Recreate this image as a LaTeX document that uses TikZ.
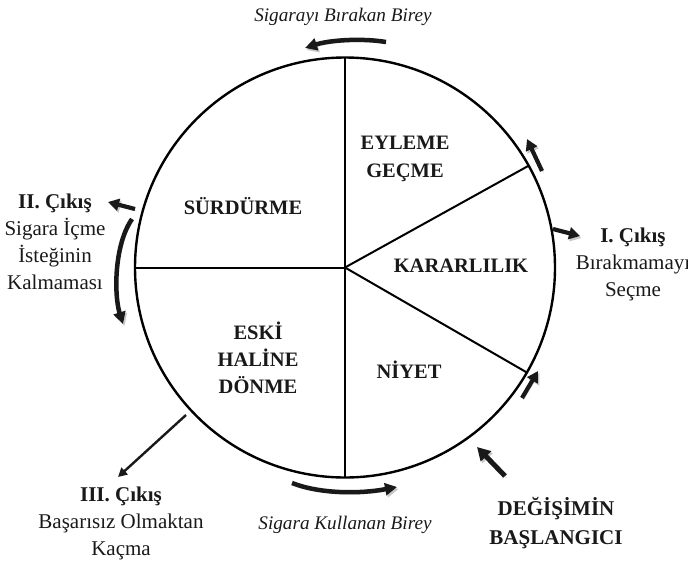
\documentclass[tikz,border=0pt]{standalone}
\usepackage{fontspec}
\setmainfont{Liberation Serif}
\usetikzlibrary{arrows.meta}
\begin{document}
\begin{tikzpicture}[x=1pt,y=-1pt,
  lbl/.style={font=\fontsize{20.5}{28}\selectfont\bfseries, align=center, inner sep=0pt, text=black!90},
  outer/.style={font=\fontsize{21}{27}\selectfont, align=center, inner sep=0pt, text=black!90},
  itl/.style={font=\fontsize{19.2}{24}\selectfont\itshape, inner sep=0pt, text=black!90},
  shad/.style={preaction={draw=black!22, transform canvas={shift={(1.5pt,-2pt)}}}},
  thickarr/.style={line width=4.2pt, -{Triangle[length=11pt,width=12pt]}, black!90, shad},
  curvarr/.style={line width=4.5pt, -{Triangle[length=12pt,width=12pt]}, black!90, shad},
  thinarr/.style={line width=2.4pt, -{Triangle[length=9pt,width=9pt]}, black!90},
  divider/.style={line width=2pt, black}
]
\useasboundingbox (0,0) rectangle (688,563);

% circle and dividers
\node[circle, draw, line width=2.4pt, minimum size=420pt, inner sep=0pt, outer sep=0pt] (c) at (345,267.5) {};
\draw[divider] (c.center) -- (c.north);
\draw[divider] (c.center) -- (c.south);
\draw[divider] (c.center) -- (c.west);
\draw[divider] (c.center) -- (c.29);
\draw[divider] (c.center) -- (c.-30);

% inner labels
\node[lbl] (eyl) at (405,159) {EYLEME\\GEÇME};
\node[lbl] (sur) at (243,206) {SÜRDÜRME};
\node[lbl] (kar) at (461,266) {KARARLILIK};
\node[lbl, font=\fontsize{20.5}{27}\selectfont\bfseries] (esk) at (258,358) {ESKİ\\HALİNE\\DÖNME};
\node[lbl] (niy) at (409,370) {NİYET};

% outer texts
\node[itl] (top) at (343,17) {Sigarayı Bırakan Birey};
\node[itl] (bot) at (345,525) {Sigara Kullanan Birey};
\node[outer] (c2) at (55,242) {\textbf{II. Çıkış}\\Sigara İçme\\İsteğinin\\Kalmaması};
\node[outer] (c1) at (633,264) {\textbf{I. Çıkış}\\Bırakmamayı\\Seçme};
\node[outer] (c3) at (121,523) {\textbf{III. Çıkış}\\Başarısız Olmaktan\\Kaçma};
\node[outer, font=\fontsize{21}{29}\selectfont\bfseries] (deg) at (556,523) {DEĞİŞİMİN\\BAŞLANGICI};

% arrow end points
\coordinate (tA) at (386,42);
\coordinate (tB) at (305,48);
\coordinate (lA) at (132,219);
\coordinate (lB) at (123,324);
\coordinate (bA) at (292,483);
\coordinate (bB) at (397,487);
\coordinate (i1A) at (553,229);
\coordinate (i1B) at (580,236);
\coordinate (urA) at (542,171);
\coordinate (urB) at (527,139);
\coordinate (lrA) at (522,398);
\coordinate (lrB) at (538,371);
\coordinate (bgA) at (505,476);
\coordinate (bgB) at (477,447);
\coordinate (i2A) at (135,209);
\coordinate (i2B) at (108,202);
\coordinate (i3A) at (186,415);
\coordinate (i3B) at (118,477);

% curved arrows
\draw[curvarr] (tA) .. controls (362,38) and (330,40) .. (tB);
\draw[curvarr] (lA) .. controls (114,245) and (114,295) .. (lB);
\draw[curvarr] (bA) .. controls (320,494) and (360,494) .. (bB);

% straight arrows
\draw[thickarr] (i1A) -- (i1B);
\draw[thickarr] (urA) -- (urB);
\draw[thickarr] (lrA) -- (lrB);
\draw[thickarr, line width=5pt, -{Triangle[length=13pt,width=14pt]}] (bgA) -- (bgB);
\draw[thickarr] (i2A) -- (i2B);
\draw[thinarr] (i3A) -- (i3B);
\end{tikzpicture}
\end{document}
